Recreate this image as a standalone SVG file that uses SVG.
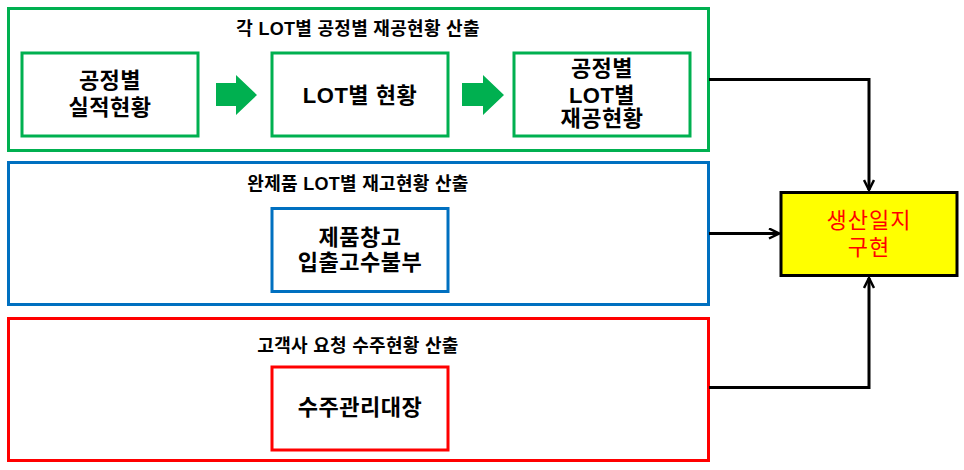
<svg xmlns="http://www.w3.org/2000/svg" width="964" height="470" viewBox="0 0 964 470">
<defs>
<style>
text{font-family:"Liberation Sans","Noto Sans CJK KR",sans-serif;font-weight:bold;text-anchor:middle;fill:#000}
.t{font-size:18px;letter-spacing:0.3px}
.b{font-size:22px;letter-spacing:0.5px}
.y{font-size:22px;font-weight:normal;fill:#FF0000;letter-spacing:1px}
.g{fill:#fff;stroke:#00B050;stroke-width:3}
.bl{fill:#fff;stroke:#0070C0;stroke-width:3}
.r{fill:#fff;stroke:#FF0000;stroke-width:3}
.c{fill:none;stroke:#000;stroke-width:3}
.ba{fill:#00B050}
</style>
<marker id="ah" viewBox="0 0 12 12" refX="11" refY="6" markerWidth="12" markerHeight="12" markerUnits="userSpaceOnUse" orient="auto">
<path d="M1,1 L11,6 L1,11" fill="none" stroke="#000" stroke-width="2.5"/>
</marker>
</defs>
<g id="group-green">
<rect class="g" x="8.5" y="8.5" width="700" height="142"/>
<text class="t" x="358" y="35">각 LOT별 공정별 재공현황 산출</text>
</g>
<g id="node-proc-result">
<rect class="g" x="22" y="53" width="176" height="83"/>
<text class="b" x="110" y="88">공정별</text>
<text class="b" x="110" y="115">실적현황</text>
</g>
<g id="node-lot-status">
<rect class="g" x="272" y="53" width="176" height="83"/>
<text class="b" x="360" y="103">LOT별 현황</text>
</g>
<g id="node-proc-lot-wip">
<rect class="g" x="514" y="53" width="176" height="83"/>
<text class="b" x="602" y="76">공정별</text>
<text class="b" x="602" y="103">LOT별</text>
<text class="b" x="602" y="126">재공현황</text>
</g>
<g id="block-arrows">
<polygon class="ba" points="216,83 236,83 236,75 257,95 236,115 236,106 216,106"/>
<polygon class="ba" points="462,83 483,83 483,75 504,95 483,115 483,106 462,106"/>
</g>
<g id="group-blue">
<rect class="bl" x="8.5" y="162.5" width="700" height="142"/>
<text class="t" x="358" y="190">완제품 LOT별 재고현황 산출</text>
</g>
<g id="node-warehouse">
<rect class="bl" x="272" y="208.5" width="176" height="83"/>
<text class="b" x="360" y="245">제품창고</text>
<text class="b" x="360" y="270">입출고수불부</text>
</g>
<g id="group-red">
<rect class="r" x="8.5" y="318.5" width="700" height="142"/>
<text class="t" x="358" y="352">고객사 요청 수주현황 산출</text>
</g>
<g id="node-order">
<rect class="r" x="272" y="367" width="176" height="83"/>
<text class="b" x="360" y="415">수주관리대장</text>
</g>
<g id="node-daily">
<rect x="781" y="192.5" width="176" height="83" fill="#FFFF00" stroke="#000" stroke-width="3"/>
<text class="y" x="869" y="228">생산일지</text>
<text class="y" x="869" y="255">구현</text>
</g>
<g id="connectors">
<path class="c" d="M709,79.5 H869 V190" marker-end="url(#ah)"/>
<path class="c" d="M709,233.5 H779" marker-end="url(#ah)"/>
<path class="c" d="M709,387.5 H869 V278" marker-end="url(#ah)"/>
</g>
</svg>
